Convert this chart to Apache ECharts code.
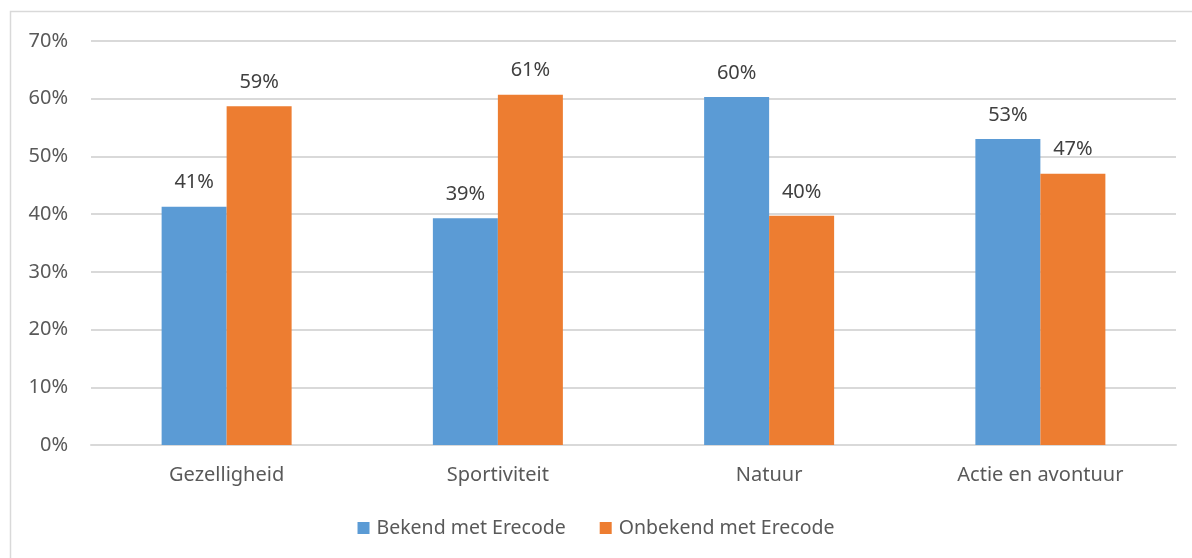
<!DOCTYPE html>
<html><head><meta charset="utf-8">
<script src="https://cdn.jsdelivr.net/npm/echarts@6/dist/echarts.min.js"></script>
<style>html,body{margin:0;padding:0;background:#fff}#c{width:1192px;height:558px}</style>
</head><body><div id="c"></div>
<script>
const categories = ['Gezelligheid', 'Sportiviteit', 'Natuur', 'Actie en avontuur'];
const bekend = [41.3, 39.3, 60.3, 53.0];
const onbekend = [58.7, 60.7, 39.7, 47.0];
const seriesNames = ['Bekend met Erecode', 'Onbekend met Erecode'];
const font = 'Noto Sans';
const txt = '#595959';
const chart = echarts.init(document.getElementById('c'), null, {renderer: 'canvas'});
chart.setOption({
  animation: false,
  textStyle: {fontFamily: font},
  graphic: [{type: 'rect', shape: {x: 10.5, y: 11.5, width: 1200, height: 600}, style: {fill: 'none', stroke: '#d9d9d9', lineWidth: 1.5}}],
  grid: {left: 91, right: 16, top: 41, bottom: 113, containLabel: false},
  legend: {
    bottom: 15, left: 'center', itemWidth: 12, itemHeight: 12, itemGap: 34,
    icon: 'rect',
    textStyle: {color: txt, fontSize: 19.5, fontFamily: font, padding: [0, 0, 0, 2]},
    data: seriesNames
  },
  xAxis: {
    type: 'category', data: categories,
    axisLine: {lineStyle: {color: '#d9d9d9', width: 2}},
    axisTick: {show: false},
    axisLabel: {color: txt, fontSize: 20, margin: 20, fontFamily: font}
  },
  yAxis: {
    type: 'value', min: 0, max: 70, interval: 10,
    axisLine: {show: false}, axisTick: {show: false},
    splitLine: {lineStyle: {color: '#d9d9d9', width: 2}},
    axisLabel: {color: txt, fontSize: 20, margin: 23, fontFamily: font, formatter: v => v + '%'}
  },
  series: [
    {name: seriesNames[0], type: 'bar', data: bekend, barWidth: 65, barGap: '0%',
     itemStyle: {color: '#5B9BD5'},
     label: {show: true, position: 'top', distance: 14, color: '#404040', fontSize: 20, fontFamily: font, formatter: p => Math.round(p.value) + '%'}},
    {name: seriesNames[1], type: 'bar', data: onbekend, barWidth: 65,
     itemStyle: {color: '#ED7D31'},
     label: {show: true, position: 'top', distance: 14, color: '#404040', fontSize: 20, fontFamily: font, formatter: p => Math.round(p.value) + '%'}}
  ]
});
</script></body></html>
